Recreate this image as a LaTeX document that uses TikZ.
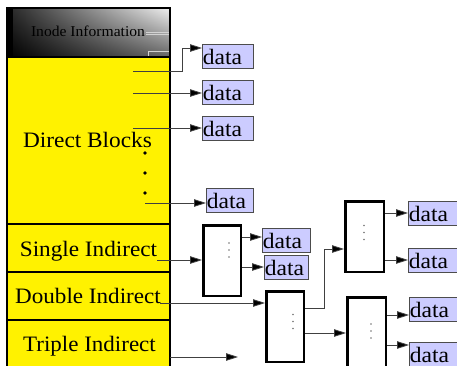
\documentclass[tikz,border=0pt]{standalone}
\usepackage{fontspec}
\setmainfont{Liberation Serif}
\usepackage{graphicx}
\usetikzlibrary{arrows.meta,calc,shadings}
\newcommand\hsc[2]{\scalebox{#1}[1]{#2}}
\begin{document}
\begin{tikzpicture}[x=1pt,y=-1pt,
  conn/.style={draw=black!75, line width=0.8pt},
  arr/.style={conn, -{Triangle[length=12pt,width=7.5pt,fill=black]}},
  datab/.style={draw=black!70, line width=0.6pt,
    fill={rgb,255:red,204;green,204;blue,255},
    anchor=north west, inner xsep=0.5pt, inner ysep=0.5pt,
    text height=20pt, text depth=3pt, align=left,
    font=\fontsize{22}{22}\selectfont},
  blk/.style={draw=black, line width=2.5pt, inner sep=0,
    minimum height=70.5pt},
  lbl/.style={anchor=base, inner sep=0, font=\fontsize{22}{24}\selectfont},
  vdot/.style={fill=black!55},
  panel/.style={line width=1.2pt, draw=black},
  deco/.style={draw=gray!35, line width=0.6pt}]
\useasboundingbox (0,0) rectangle (457,366);
\clip (0,0) rectangle (457,366);
% left panel
\begin{scope}[y=1pt]
\shade[lower left=black, upper left=black!85, lower right=black!60, upper right=black!6] (7,-57) rectangle (170,-8);
\end{scope}
\fill[black] (7,8) rectangle (13,57);
\fill[yellow] (7,57) rectangle (170,380);
\draw[deco] (146,32) -- (170,32) (146,34.5) -- (170,34.5);
\draw[deco] (170,51) -- (148,51) -- (148,57);
\draw[panel] (7,8) rectangle (170,380);
\draw[panel] (7,57) -- (170,57) (7,224) -- (170,224) (7,272) -- (170,272) (7,320) -- (170,320);
\node[lbl, font=\fontsize{15}{15}\selectfont, text=black] (inode) at (88,37) {\hsc{1.04}{Inode Information}};
\node[lbl] (direct) at (87.5,148) {\hsc{1.06}{Direct Blocks}};
\node[lbl] (single) at (88.5,256) {\hsc{1.055}{Single Indirect}};
\node[lbl] (double) at (88,303.3) {\hsc{1.05}{Double Indirect}};
\node[lbl] (triple) at (89.5,351.7) {\hsc{1.045}{Triple Indirect}};
\fill (145,153) circle (1.8pt) (145,173) circle (1.8pt) (145,193) circle (1.8pt);
% data boxes
\node[datab, text width=50pt] (D1) at (202,44) {\hsc{1.07}{data}};
\node[datab, text width=50pt] (D2) at (202,80) {\hsc{1.07}{data}};
\node[datab, text width=50pt] (D3) at (202,116) {\hsc{1.07}{data}};
\node[datab, text width=46pt] (D4) at (206,188) {\hsc{1.07}{data}};
\node[datab, text width=47pt] (S1) at (262,228) {\hsc{1.07}{data}};
\node[datab, text width=43pt] (S2) at (264,255) {\hsc{1.07}{data}};
\node[datab, text width=60pt] (T1) at (408,201) {\hsc{1.07}{data}};
\node[datab, text width=60pt] (T2) at (408,248) {\hsc{1.07}{data}};
\node[datab, text width=60pt] (T3) at (409,297) {\hsc{1.07}{data}};
\node[datab, text width=60pt] (T4) at (409,342) {\hsc{1.07}{data}};
% blocks
\node[blk, minimum width=37.5pt] (B1) at (222,260.5) {};
\node[blk, minimum width=37.5pt] (B2) at (285,326.5) {};
\node[blk, minimum width=38.5pt] (B3) at (364.5,236.5) {};
\node[blk, minimum width=38.5pt] (B4) at (366.5,332.5) {};
\foreach \x/\y in {229/250, 293/321.5, 364/232.5, 371/331}
  \fill[vdot] (\x,\y-7) circle (0.8pt) (\x,\y) circle (0.8pt) (\x,\y+7) circle (0.8pt);
% pointer start points
\coordinate (p1) at (133,71);
\coordinate (p2) at (133,93);
\coordinate (p3) at (133,128);
\coordinate (p4) at (145,203);
\coordinate (p5) at (157,260);
\coordinate (p6) at (160,303);
\coordinate (p7) at (170,357);
\coordinate (p8) at (238,357);
\path (B1.north east) ++(0,13) coordinate (o1);
\path (B1.north east) ++(0,43) coordinate (o2);
\path (B2.north east) ++(0,18) coordinate (o3);
\path (B2.north east) ++(0,43) coordinate (o4);
\path (B3.north east) ++(0,13) coordinate (o5);
\path (B3.north east) ++(0,60) coordinate (o6);
\path (B4.north east) ++(0,19) coordinate (o7);
\path (B4.north east) ++(0,49) coordinate (o8);
% connectors
\draw[arr] (p1) -- ++(49,0) |- ($(D1.north west)+(0,4)$);
\draw[arr] (p2) -- (D2.west |- p2);
\draw[arr] (p3) -- (D3.west |- p3);
\draw[arr] (p4) -- (D4.west |- p4);
\draw[arr] (p5) -- (B1.west |- p5);
\draw[arr] (o1) -- (S1.west |- o1);
\draw[arr] (o2) -- (S2.west |- o2);
\draw[arr] (p6) -- (B2.west |- p6);
\draw[arr] (o3) -- ++(19,0) |- ($(B3.north west)+(0,49)$);
\draw[arr] (o4) -- (B4.west |- o4);
\draw[arr] (o5) -- (T1.west |- o5);
\draw[arr] (o6) -- (T2.west |- o6);
\draw[arr] (o7) -- (T3.west |- o7);
\draw[arr] (o8) -- (T4.west |- o8);
\draw[arr] (p7) -- (p8);
\end{tikzpicture}
\end{document}
